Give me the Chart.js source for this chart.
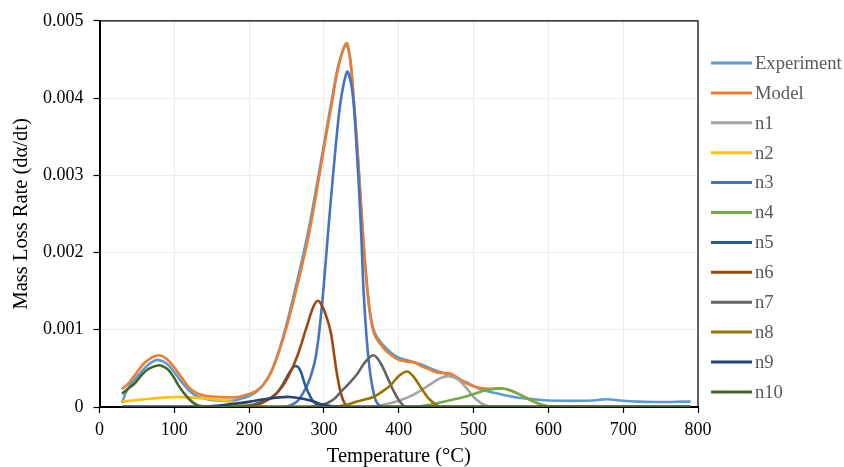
<!DOCTYPE html>
<html>
<head>
<meta charset="utf-8">
<script src="https://cdn.jsdelivr.net/npm/chart.js@4.4.1/dist/chart.umd.min.js"></script>
<style>
html,body{margin:0;padding:0;background:#fff;}
#wrap{width:844px;height:467px;position:relative;}
</style>
</head>
<body>
<div id="wrap"><canvas id="c"></canvas></div>
<script>
// ---- labels, colours, ticks ----
const seriesLabels = ['Experiment','Model','n1','n2','n3','n4','n5','n6','n7','n8','n9','n10'];
const seriesColors = ['#5B9BD5','#ED7D31','#A5A5A5','#FFC000','#4472C4','#70AD47','#255E91','#9E480E','#636363','#997300','#264478','#43682B'];
const xTickLabels = ['0','100','200','300','400','500','600','700','800'];
const yTickLabels = ['0','0.001','0.002','0.003','0.004','0.005'];
const xTitle = 'Temperature (°C)';
const yTitle = 'Mass Loss Rate (dα/dt)';

// ---- data (temperature °C, mass loss rate) ----
const expT = [30,35,40,50,60,70,78,90,100,110,120,130,140,150,160,170,180,190,200,210,220,230,240,250,260,270,280,290,300,310,320,330,335,340,345,350,355,360,365,370,380,390,400,410,420,430,440,450,460,470,480,490,500,510,520,530,540,550,560,570,580,590,600,620,640,660,670,680,690,700,720,740,760,780,790];
const expV = [0.00005,0.00018,0.00027,0.00039,0.00050,0.00058,0.00061,0.00056,0.00045,0.00032,0.00021,0.00014,0.00011,0.00009,0.000085,0.00008,0.000085,0.00011,0.00014,0.00020,0.00030,0.00047,0.00073,0.00107,0.00146,0.00187,0.00232,0.00285,0.00340,0.00395,0.00445,0.00468,0.00450,0.00395,0.00330,0.00255,0.00187,0.00135,0.00105,0.00092,0.00079,0.00070,0.00064,0.00061,0.00058,0.00055,0.00051,0.00047,0.00044,0.00041,0.00036,0.00032,0.00027,0.00023,0.00020,0.00018,0.000155,0.000135,0.00012,0.00011,0.00010,0.00009,0.000085,0.00008,0.00008,0.000085,0.000095,0.00010,0.00009,0.00008,0.00007,0.000065,0.000065,0.00007,0.00007];

const modelT = [30,40,50,60,70,80,90,100,110,120,130,140,150,160,170,180,190,200,210,220,230,240,250,260,270,280,290,300,310,320,330,335,340,345,350,355,360,365,370,380,390,400,410,420,430,440,450,460,470,480,490,500,510,520,530,540,550,560,570,580,590,600,610,790];
const modelV = [0.00023,0.00032,0.00045,0.00057,0.00064,0.00067,0.00062,0.00051,0.00038,0.00025,0.00018,0.00015,0.000135,0.00013,0.000125,0.000125,0.00014,0.00017,0.00021,0.00030,0.00046,0.00072,0.00103,0.00140,0.00180,0.00224,0.00277,0.00335,0.00390,0.00443,0.00471,0.00452,0.00397,0.00330,0.00255,0.00185,0.00132,0.00102,0.00089,0.00076,0.00067,0.00061,0.00059,0.00058,0.00053,0.00049,0.00045,0.00044,0.00043,0.00037,0.00031,0.00027,0.000245,0.000235,0.00024,0.00024,0.00021,0.00017,0.00012,0.00007,0.00003,0.00001,0,0];

const n1T = [30,360,380,400,420,440,455,467,480,490,500,510,520,530,790];
const n1V = [0,0,0.00003,0.00008,0.00016,0.00028,0.00037,0.00040,0.00035,0.00025,0.00013,0.00005,0.00001,0,0];

const n2T = [30,50,70,90,105,120,140,160,180,200,215,230,790];
const n2V = [0.00007,0.00009,0.00011,0.000125,0.00013,0.000125,0.00011,0.00009,0.00006,0.00003,0.00001,0,0];

const n3T = [30,245,255,265,272,279,288,294,300,305,312,318,323,331,336,340,344,347,350,353,357,361,365,369,375,380,790];
const n3V = [0,0,0.00002,0.00008,0.00018,0.00031,0.00060,0.00100,0.00160,0.00220,0.00298,0.00360,0.00400,0.00434,0.00420,0.00390,0.00330,0.00280,0.00220,0.00150,0.00090,0.00050,0.00025,0.00009,0.00001,0,0];

const n4T = [30,420,446,470,491,518,536,548,558,570,581,594,605,790];
const n4V = [0,0,0.00004,0.00009,0.00014,0.00022,0.00024,0.00022,0.00018,0.00012,0.00007,0.00002,0,0];

const n5T = [30,180,200,215,228,236,243,250,256,262,268,275,281,286,295,305,790];
const n5V = [0,0,0.00002,0.00006,0.00011,0.00017,0.00026,0.00038,0.00048,0.00053,0.00048,0.00028,0.00015,0.00007,0.00001,0,0];

const n6T = [30,190,201,219,237,250,264,277,286,292,298,304,309.5,313,317.5,322,326,330,336,790];
const n6V = [0,0,0.00001,0.00006,0.00018,0.00035,0.00065,0.00104,0.00130,0.001375,0.00130,0.00115,0.00095,0.00072,0.00042,0.00020,0.00008,0.00002,0,0];

const n7T = [30,280,295,304,313,322,333,344,355,366,375,385,392,398,406,412,790];
const n7V = [0,0,0.00002,0.00005,0.00010,0.00019,0.00030,0.00042,0.00058,0.00067,0.00058,0.00038,0.00023,0.00012,0.00002,0,0];

const n8T = [30,310,326,344,356,366,378,389,400,411,420,429,436,442,453,460,790];
const n8V = [0,0,0.00002,0.00007,0.00010,0.00013,0.00020,0.00028,0.00040,0.00046,0.00039,0.00026,0.00016,0.00009,0.00001,0,0];

const n9T = [30,130,160,188,201,220,240,255,270,283,295,305,318,330,790];
const n9V = [0,0,0.00002,0.00005,0.00007,0.00010,0.000125,0.00013,0.00011,0.00008,0.00004,0.00002,0.000005,0,0];

const n10T = [30,40,47.5,56,65,79,86,92,99,105.5,112,119,126,132,140,150,790];
const n10V = [0.00017,0.00025,0.00031,0.00041,0.00049,0.00054,0.00052,0.00048,0.00039,0.00028,0.00019,0.00011,0.00005,0.00002,0.000005,0,0];

const seriesT = [expT, modelT, n1T, n2T, n3T, n4T, n5T, n6T, n7T, n8T, n9T, n10T];
const seriesV = [expV, modelV, n1V, n2V, n3V, n4V, n5V, n6V, n7V, n8V, n9V, n10V];

// ---- build chart ----
const FONT = '"Liberation Serif", "Times New Roman", serif';
const datasets = seriesLabels.map((label, i) => ({
  label,
  data: seriesT[i].map((t, k) => ({x: t, y: seriesV[i][k]})),
  borderColor: seriesColors[i],
  backgroundColor: seriesColors[i],
  borderWidth: 2.6,
  pointRadius: 0,
  fill: false,
  tension: 0.35,
  order: seriesLabels.length - i
}));

const framePlugin = {
  id: 'frameAndLegend',
  afterDraw(chart) {
    const {ctx, chartArea: a} = chart;
    ctx.save();
    ctx.strokeStyle = '#000';
    ctx.lineWidth = 1.2;
    ctx.beginPath();
    ctx.moveTo(a.left, a.top);
    ctx.lineTo(a.right, a.top);
    ctx.lineTo(a.right, a.bottom);
    ctx.stroke();
    // legend
    const ds = chart.data.datasets;
    ctx.font = '18.6px ' + FONT;
    ctx.textBaseline = 'middle';
    ctx.textAlign = 'left';
    ds.forEach((d, i) => {
      const y = 63 + i * 29.9;
      ctx.strokeStyle = d.borderColor;
      ctx.lineWidth = 3;
      ctx.beginPath();
      ctx.moveTo(711, y);
      ctx.lineTo(752, y);
      ctx.stroke();
      ctx.fillStyle = '#595959';
      ctx.fillText(d.label, 755, y + 1);
    });
    ctx.restore();
  }
};

new Chart(document.getElementById('c'), {
  type: 'line',
  data: {datasets},
  plugins: [framePlugin],
  options: {
    responsive: true,
    maintainAspectRatio: false,
    animation: false,
    layout: {padding: {top: 20, right: 146, bottom: 0, left: 0}},
    plugins: {legend: {display: false}, tooltip: {enabled: false}},
    scales: {
      x: {
        type: 'linear', min: 0, max: 800,
        afterFit(s) { s.height = 60; },
        ticks: {
          stepSize: 100, color: '#000', padding: 6,
          font: {family: FONT, size: 18},
          callback: (v) => xTickLabels[Math.round(v / 100)] ?? ''
        },
        grid: {color: '#ececec', lineWidth: 1, tickColor: '#000', tickLength: 6, tickWidth: 1.2},
        border: {color: '#000', width: 2},
        title: {display: true, text: xTitle, color: '#000', font: {family: FONT, size: 20.5}, padding: {top: 0, bottom: -2}}
      },
      y: {
        type: 'linear', min: 0, max: 0.005,
        afterFit(s) { s.width = 99.5; },
        ticks: {
          stepSize: 0.001, color: '#000', padding: 10,
          font: {family: FONT, size: 18},
          callback: (v) => yTickLabels[Math.round(v / 0.001)] ?? ''
        },
        grid: {color: '#ececec', lineWidth: 1, tickColor: '#000', tickLength: 6, tickWidth: 1.2},
        border: {color: '#000', width: 2},
        title: {display: true, text: yTitle, color: '#000', font: {family: FONT, size: 20.5}, padding: {top: 9.7, bottom: 0}}
      }
    }
  }
});
</script>
</body>
</html>
